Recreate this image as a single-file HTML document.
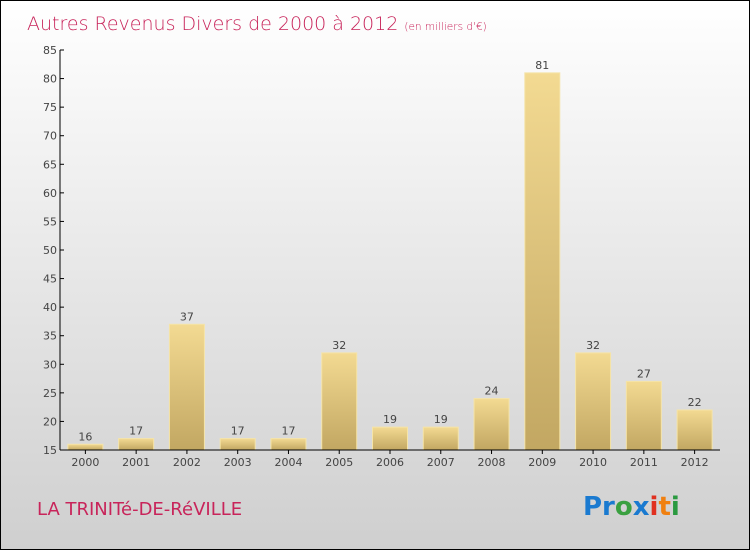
<!DOCTYPE html>
<html><head><meta charset="utf-8"><style>
body{margin:0}
#c{position:relative;width:748px;height:548px;border:1px solid #000;background:linear-gradient(#ffffff,#cfcfcf);overflow:hidden;font-family:"DejaVu Sans","Liberation Sans",sans-serif}
</style></head><body>
<div id="c">
<svg width="748" height="548">
<defs><linearGradient id="bg" x1="0" y1="0" x2="0" y2="1"><stop offset="0" stop-color="#f3da92"/><stop offset="1" stop-color="#c2a762"/></linearGradient></defs>
<text x="26" y="29" font-size="19" fill="#c8245a" font-weight="200">Autres Revenus Divers de 2000 à 2012 <tspan font-size="10.5">(en milliers d'€)</tspan></text>
<g id="plot"></g>
<text x="36" y="514" font-size="18" fill="#c8245a">LA TRINITé-DE-RéVILLE</text>
<text x="582" y="514" font-size="26" font-weight="bold"><tspan fill="#1a7ad0">Pr</tspan><tspan fill="#3aa040">o</tspan><tspan fill="#1a7ad0">x</tspan><tspan fill="#e03020">i</tspan><tspan fill="#f08010">t</tspan><tspan fill="#2a9a40">i</tspan></text>
</svg></div>
<script>
const categories=["2000","2001","2002","2003","2004","2005","2006","2007","2008","2009","2010","2011","2012"];
const values=[16,17,37,17,17,32,19,19,24,81,32,27,22];
const yTicks=[15,20,25,30,35,40,45,50,55,60,65,70,75,80,85];
const ns="http://www.w3.org/2000/svg",g=document.getElementById("plot");
const x0=59,x1=719,yTop=49,yBot=449,vMin=15,vMax=85;
const y=v=>yBot-(v-vMin)/(vMax-vMin)*(yBot-yTop);
const step=(x1-x0)/categories.length,bw=35;
const xc=i=>x0+(i+0.5)*step;
function mk(t,a){const e=document.createElementNS(ns,t);for(const k in a)e.setAttribute(k,a[k]);g.appendChild(e);return e;}
yTicks.forEach(v=>{
 const l=mk("line",{x1:x0,x2:x0+4,y1:y(v),y2:y(v),stroke:"#000"});
 
 
 const t=mk("text",{x:x0-3,y:y(v)+4,"text-anchor":"end","font-size":"11",fill:"#444"});t.textContent=v;
 
 
});
categories.forEach((c,i)=>{
 const r=mk("rect",{x:xc(i)-bw/2,y:y(values[i]),width:bw,height:yBot-y(values[i]),fill:"url(#bg)",stroke:"#f5e4a8","stroke-width":"1"});
 
 
 const v=mk("text",{x:xc(i),y:y(values[i])-4,"text-anchor":"middle","font-size":"11",fill:"#444"});v.textContent=values[i];
 
 
 const tk=mk("line",{x1:xc(i),x2:xc(i),y1:yBot,y2:yBot+4,stroke:"#000"});
 
 
 const t=mk("text",{x:xc(i),y:yBot+16,"text-anchor":"middle","font-size":"11",fill:"#444"});t.textContent=c;
 
 
});
const ya=mk("line",{x1:x0,x2:x0,y1:yTop,y2:yBot,stroke:"#000"});


const xa=mk("line",{x1:x0,x2:x1,y1:yBot,y2:yBot,stroke:"#000"});


</script>
</body></html>
